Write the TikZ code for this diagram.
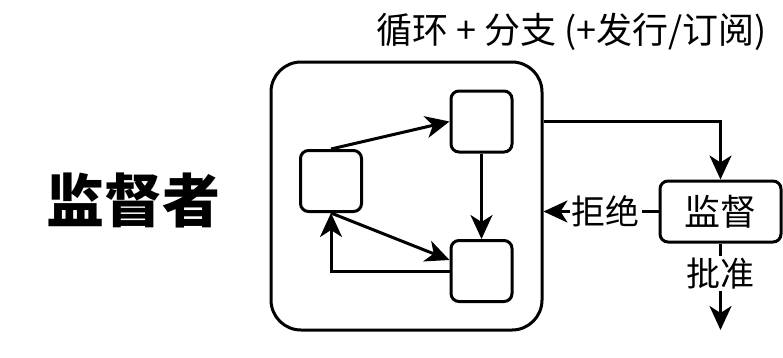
\documentclass[tikz,border=0pt]{standalone}
\usepackage{fontspec}
\newfontfamily\cjk{Noto Sans CJK SC}
\usetikzlibrary{arrows.meta,positioning}

\begin{document}
\begin{tikzpicture}[
  x=1pt,y=-1pt,
  font=\cjk\fontsize{36}{40}\selectfont,
  statebox/.style={rounded corners=8pt,draw,line width=3pt,minimum width=61pt,
               minimum height=61pt,inner sep=0pt},
  arr/.style={-{Stealth[length=24pt,width=22pt,inset=7pt]},line width=3pt},
  lbl/.style={fill=white,inner sep=2pt,font=\cjk\fontsize{34}{38}\selectfont}
]
\useasboundingbox (0,0) rectangle (783,357);
% composite state
\node[rounded corners=30pt,draw,line width=3pt,minimum width=271pt,
      minimum height=268pt] (cycle) at (406.5,196) {};
\node (title) at (571.5,32) {循环 + 分支 (+发行/订阅)};
\node[font=\cjk\bfseries\fontsize{58}{62}\selectfont] (supname) at (133,200) {监督者};
% inner states
\node[statebox] (sa) at (331,181) {};
\node[statebox] (sb) at (481.5,121.5) {};
\node[statebox] (sc) at (481.5,271) {};
\draw[arr] (sa.north)--(sb.west);
\draw[arr] (sa.south)--([yshift=11pt]sc.west);
\draw[arr] (sb.south)--(sc.north);
\draw[arr] (sc.west)-|(sa.south);
% supervisor
\node[rounded corners=8pt,draw,line width=3pt,minimum width=121pt,
      minimum height=61pt] (sup) at (720.5,211.5) {监督};
\draw[arr] (cycle.east |- sb.center)-|(sup.north);
\draw[arr] (sup.west)--node[lbl,pos=0.46] (reject) {拒绝} (cycle.east |- sup.west);
\coordinate (out) at (720.5,330);
\draw[arr] (sup.south)--node[lbl,pos=0.35] (approve) {批准} (out);
\end{tikzpicture}
\end{document}
